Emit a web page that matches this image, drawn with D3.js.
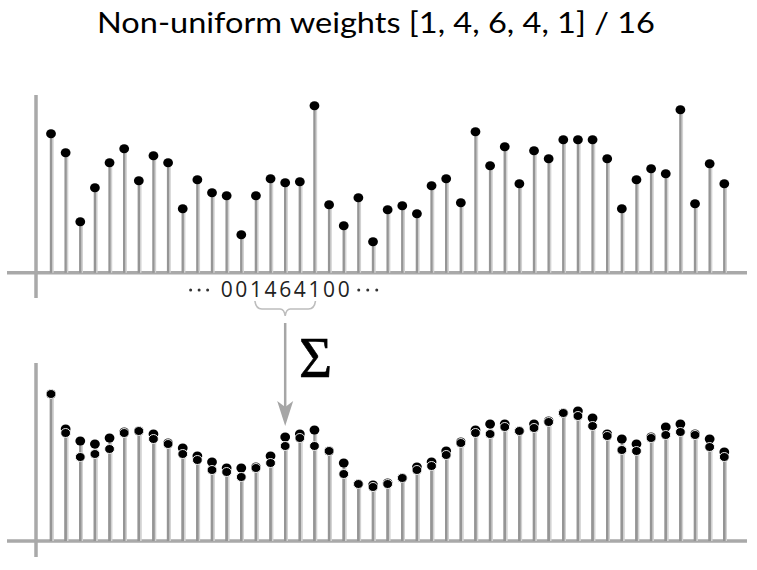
<!DOCTYPE html>
<html>
<head>
<meta charset="utf-8">
<script src="https://cdnjs.cloudflare.com/ajax/libs/d3/7.8.5/d3.min.js"></script>
<style>
  html, body { margin: 0; padding: 0; background: #fff; }
  svg { display: block; }
</style>
</head>
<body>
<div id="chart"></div>
<script>
// Raw samples (top panel), one per stem.
const rawValues = [
  139, 120, 51, 85, 110, 124, 92, 117, 110, 64,
  93, 80, 77, 38, 77, 94, 90, 91, 167, 68,
  47, 75, 31, 63, 67, 59, 87, 94, 70, 141,
  107, 126, 89, 122, 114, 133, 133, 133, 114, 64,
  93, 104, 99, 163, 69, 109, 89
];

// Smoothed results (bottom panel): the two overlaid dot sets.
const smoothUpper = [
  147, 112, 100, 97, 103, 109, 110, 107, 98, 93,
  85, 79, 73, 73, 74, 85, 104, 107, 111, 90,
  78, 57, 56, 58, 63, 74, 79, 90, 99, 111,
  117, 117, 110, 117, 120, 128, 130, 123, 107, 102,
  97, 104, 114, 117, 107, 102, 89
];
const smoothLower = [
  147, 108, 84, 87, 92, 108, 110, 102, 97, 87,
  81, 71, 69, 64, 73, 78, 95, 103, 95, 90,
  67, 57, 54, 57, 63, 71, 75, 86, 98, 108,
  107, 114, 110, 113, 119, 128, 125, 115, 105, 91,
  90, 103, 106, 109, 106, 94, 84
];

// Kernel digits printed under the top axis, with the stem index each sits under.
const kernelDigits = ['0', '0', '1', '4', '6', '4', '1', '0', '0'];
const kernelStart = 13;

const title = 'Non-uniform weights [1, 4, 6, 4, 1] / 16';

const W = 757, H = 570;
const svg = d3.select('#chart').append('svg')
  .attr('width', W).attr('height', H)
  .attr('viewBox', `0 0 ${W} ${H}`);

const x = d3.scaleLinear().domain([1, rawValues.length]).range([51, 724.3]);
const yTop = d3.scaleLinear().domain([0, 180]).range([272.7, 92.7]);
const yBot = d3.scaleLinear().domain([0, 180]).range([541, 361]);

const AXIS = '#a9a9a9';
const STEM = '#959595';
const STEM_LIGHT = '#d2d2d2';

svg.append('text')
  .attr('x', 376).attr('y', 33)
  .attr('text-anchor', 'middle')
  .attr('textLength', 558)
  .attr('lengthAdjust', 'spacingAndGlyphs')
  .style('font-family', 'Lato, "Open Sans", sans-serif')
  .style('font-size', '29px')
  .style('fill', '#000')
  .text(title);

function drawAxes(y, top, bottom) {
  svg.append('line')
    .attr('x1', 7).attr('x2', 747)
    .attr('y1', y(0)).attr('y2', y(0))
    .style('stroke', AXIS).style('stroke-width', 3.5);
  svg.append('line')
    .attr('x1', 36).attr('x2', 36)
    .attr('y1', top).attr('y2', bottom)
    .style('stroke', AXIS).style('stroke-width', 3.5);
}

function drawStems(values, y) {
  const g = svg.append('g');
  g.selectAll('line.shade')
    .data(values)
    .enter().append('line')
    .attr('class', 'shade')
    .attr('x1', (d, i) => x(i + 1) + 1.9).attr('x2', (d, i) => x(i + 1) + 1.9)
    .attr('y1', y(0)).attr('y2', d => y(d) + 3)
    .style('stroke', STEM_LIGHT).style('stroke-width', 1.6);
  g.selectAll('line.stem')
    .data(values)
    .enter().append('line')
    .attr('class', 'stem')
    .attr('x1', (d, i) => x(i + 1)).attr('x2', (d, i) => x(i + 1))
    .attr('y1', y(0)).attr('y2', d => y(d))
    .style('stroke', STEM).style('stroke-width', 2.4);
}

function drawDots(values, y, outline) {
  svg.append('g').selectAll('ellipse')
    .data(values)
    .enter().append('ellipse')
    .attr('cx', (d, i) => x(i + 1))
    .attr('cy', d => y(d))
    .attr('rx', 4.9).attr('ry', 4.5)
    .style('fill', '#000')
    .style('stroke', outline ? '#fff' : 'none')
    .style('stroke-width', outline ? 0.9 : 0);
}

// Top panel
drawAxes(yTop, 95, 298);
drawStems(rawValues, yTop);
drawDots(rawValues, yTop, false);

// Bottom panel
drawAxes(yBot, 363, 557);
drawStems(smoothUpper, yBot);
drawStems(smoothLower, yBot);
drawDots(smoothUpper, yBot, false);
drawDots(smoothLower, yBot, true);

// Kernel label "···001464100···"
const labelY = 297;
svg.append('g').selectAll('text')
  .data(kernelDigits)
  .enter().append('text')
  .attr('x', (d, i) => x(kernelStart + i))
  .attr('y', labelY)
  .attr('text-anchor', 'middle')
  .style('font-family', '"Open Sans", "Noto Sans", sans-serif')
  .style('font-size', '21px')
  .style('fill', '#222')
  .text(d => d);

const leftEdge = x(kernelStart) - 8;
const rightEdge = x(kernelStart + kernelDigits.length - 1) + 8;
const ellipsis = [
  leftEdge - 28, leftEdge - 19.5, leftEdge - 11,
  rightEdge + 7, rightEdge + 16, rightEdge + 25
];
svg.append('g').selectAll('circle')
  .data(ellipsis)
  .enter().append('circle')
  .attr('cx', d => d).attr('cy', 290).attr('r', 1.5)
  .style('fill', '#333');

// Brace under the five weighted samples
const bx0 = x(15), bx1 = x(19), bmid = x(17);
const brace = d3.path();
brace.moveTo(bx0 - 1, 301);
brace.quadraticCurveTo(bx0, 309, bx0 + 6, 309);
brace.lineTo(bmid - 5, 309);
brace.quadraticCurveTo(bmid - 1, 309, bmid, 316);
brace.quadraticCurveTo(bmid + 1, 309, bmid + 5, 309);
brace.lineTo(bx1 - 6, 309);
brace.quadraticCurveTo(bx1, 309, bx1 + 1, 301);
svg.append('path')
  .attr('d', brace.toString())
  .style('fill', 'none')
  .style('stroke', '#bdbdbd')
  .style('stroke-width', 1.6);

// Arrow down to the smoothed sample
svg.append('line')
  .attr('x1', bmid).attr('x2', bmid)
  .attr('y1', 323).attr('y2', 410)
  .style('stroke', '#a6a6a6').style('stroke-width', 2.5);
svg.append('path')
  .attr('d', `M${bmid - 8},401 L${bmid},426 L${bmid + 8},401 L${bmid},407 Z`)
  .style('fill', '#a6a6a6');

svg.append('text')
  .attr('x', 299).attr('y', 377)
  .style('font-family', '"Liberation Serif", "DejaVu Serif", serif')
  .style('font-size', '57px')
  .style('fill', '#000')
  .style('stroke', '#000')
  .style('stroke-width', 0.6)
  .text('Σ');
</script>
</body>
</html>
